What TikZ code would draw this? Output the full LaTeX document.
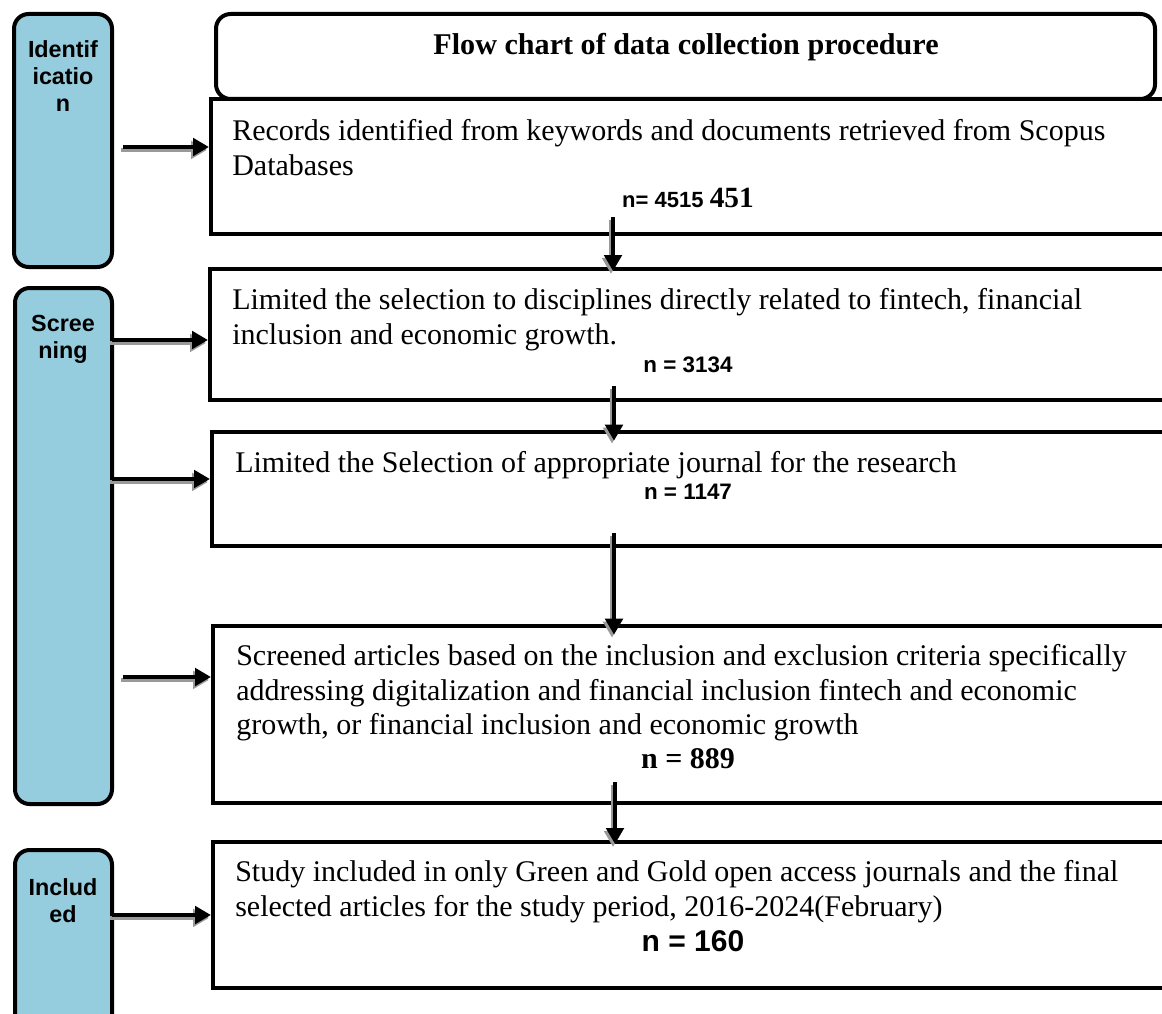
\documentclass[tikz,border=0pt]{standalone}
\usepackage{fontspec}
\setmainfont{Liberation Serif}
\setsansfont{Liberation Sans}
\usetikzlibrary{arrows.meta,fit}
\definecolor{phase}{RGB}{149,205,222}
\begin{document}
\begin{tikzpicture}[x=0.75pt,y=-0.75pt,
  box/.style={draw=black,line width=3pt,inner sep=0pt},
  phasebox/.style={draw=black,fill=phase,line width=3pt,rounded corners=11pt,inner sep=0pt},
  titlebox/.style={draw=black,line width=3pt,rounded corners=11pt,inner sep=0pt},
  phasetxt/.style={font=\sffamily\bfseries\fontsize{17.5}{20.5}\selectfont,align=center,inner sep=0pt},
  bodytxt/.style={font=\fontsize{22.5}{26}\selectfont,align=left,inner sep=0pt,anchor=north west},
  ntxt/.style={font=\sffamily\bfseries\fontsize{16.8}{20}\selectfont,inner sep=0pt},
  arr/.style={line width=3.4pt,-{Triangle[length=12pt,width=13pt]}},
]
\clip (0,0) rectangle (1162,1013);
\fill[white] (0,0) rectangle (1162,1013);
\newcommand\shadarrow[2]{%
  \draw[arr,black!40,transform canvas={xshift=-1.5pt,yshift=-2.2pt}] #1 -- #2;
  \draw[arr] #1 -- #2;}

% phase boxes
\node[phasebox,fit={(14,14)(112,267)}] (pid) {};
\node[phasebox,fit={(15,288)(112,804)}] (pscr) {};
\node[phasebox,fit={(15,850)(112,1040)}] (pinc) {};
\node[phasetxt,anchor=north] (tid) at (63,40) {Identif\\icatio\\n};
\node[phasetxt,anchor=north] (tscr) at (63,315) {Scree\\ning};
\node[phasetxt,anchor=north] (tinc) at (63,878) {Includ\\ed};

% title box
\node[titlebox,fit={(216,14)(1155,99)}] (title) {};
\node[font=\bfseries\fontsize{22.6}{26}\selectfont,inner sep=0pt] (ttl) at (686,47) {Flow chart of data collection procedure};

% step boxes
\node[box,fit={(211,99)(1180,234)}] (b1) {};
\node[box,fit={(210,269)(1180,400)}] (b2) {};
\node[box,fit={(212,432)(1180,546)}] (b3) {};
\node[box,fit={(213,626)(1180,803)}] (b4) {};
\node[box,fit={(213,842)(1180,988)}] (b5) {};

% texts
\node[bodytxt] (t1) at (232,119) {Records identified from keywords and documents retrieved from Scopus\\Databases};
\node[ntxt] (n1) at (688,198) {{\fontsize{16.5}{19}\selectfont n= 4515} {\rmfamily\fontsize{22}{25}\selectfont 451}};
\node[bodytxt] (t2) at (232,288) {Limited the selection to disciplines directly related to fintech, financial\\inclusion and economic growth.};
\node[ntxt] (n2) at (688,365) {n = 3134};
\node[bodytxt] (t3) at (235,451) {Limited the Selection of appropriate journal for the research};
\node[ntxt] (n3) at (688,492) {n = 1147};
\node[bodytxt] (t4) at (236,644) {Screened articles based on the inclusion and exclusion criteria specifically\\addressing digitalization and financial inclusion fintech and economic\\growth, or financial inclusion and economic growth};
\node[font=\bfseries\fontsize{22.5}{26}\selectfont,inner sep=0pt] (n4) at (688,759) {n = 889};
\node[bodytxt] (t5) at (235,860) {Study included in only Green and Gold open access journals and the final\\selected articles for the study period, 2016-2024(February)};
\node[ntxt,font=\sffamily\bfseries\fontsize{22.5}{26}\selectfont] (n5) at (693,941) {n = 160};

% vertical arrow start points
\coordinate (v1) at (613,217);
\coordinate (v2) at (614,386);
\coordinate (v3) at (614,533);
\coordinate (v4) at (615,782);
\shadarrow{(v1)}{([yshift=-3pt]b2.north -| v1)}
\shadarrow{(v2)}{([yshift=-8pt]b3.north -| v2)}
\shadarrow{(v3)}{([yshift=-8pt]b4.north -| v3)}
\shadarrow{(v4)}{([yshift=-3pt]b5.north -| v4)}

% horizontal arrows
\coordinate (h1) at (123,147);
\coordinate (h2) at (112,340);
\coordinate (h3) at (112,479);
\coordinate (h4) at (123,677);
\coordinate (h5) at (112,915);
\shadarrow{(h1)}{(b1.west |- h1)}
\shadarrow{(h2)}{(b2.west |- h2)}
\shadarrow{(h3)}{(b3.west |- h3)}
\shadarrow{(h4)}{(b4.west |- h4)}
\shadarrow{(h5)}{(b5.west |- h5)}
\end{tikzpicture}
\end{document}
